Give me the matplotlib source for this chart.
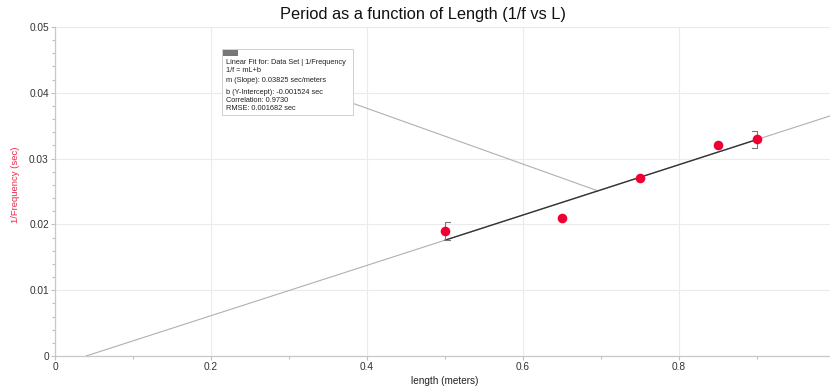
import matplotlib
matplotlib.use("Agg")
import matplotlib.pyplot as plt
import numpy as np
from matplotlib.patches import Rectangle
from matplotlib.ticker import MultipleLocator

plt.rcParams['font.family'] = ['Liberation Sans', 'DejaVu Sans']

# data
length = [0.5, 0.65, 0.75, 0.85, 0.9]
inv_freq = [0.019, 0.021, 0.027, 0.032, 0.033]
slope = 0.03825
intercept = -0.001524
fit_lines = ["Linear Fit for: Data Set | 1/Frequency",
             "1/f = mL+b",
             "m (Slope): 0.03825 sec/meters",
             "b (Y-Intercept): -0.001524 sec",
             "Correlation: 0.9730",
             "RMSE: 0.001682 sec"]
x_ticks = [0, 0.2, 0.4, 0.6, 0.8]
x_tick_labels = ["0", "0.2", "0.4", "0.6", "0.8"]
y_ticks = [0, 0.01, 0.02, 0.03, 0.04, 0.05]
y_tick_labels = ["0", "0.01", "0.02", "0.03", "0.04", "0.05"]

W, H = 830, 388
fig = plt.figure(figsize=(W/100, H/100), dpi=100)
ax = fig.add_axes([55/W, 1-356/H, 1-55/W, (356-27)/H])
xmax = (830-55)/780
ax.set_xlim(0, xmax)
ax.set_ylim(0, 0.05)

ax.grid(True, color='#ebebeb', lw=0.8, zorder=0)
for s in ['top', 'right']:
    ax.spines[s].set_visible(False)
for s in ['left', 'bottom']:
    ax.spines[s].set_color('#c8c8c8')
    ax.spines[s].set_linewidth(0.9)

ax.set_xticks(x_ticks)
ax.set_xticklabels(x_tick_labels)
ax.set_yticks(y_ticks)
ax.set_yticklabels(y_tick_labels)
ax.xaxis.set_minor_locator(MultipleLocator(0.1))
ax.yaxis.set_minor_locator(MultipleLocator(0.002))
ax.tick_params(which='both', colors='#c0c0c0', labelcolor='#333333', labelsize=7.3, length=3, width=0.8, pad=1.5)
ax.tick_params(which='minor', length=2.5)

# full fit line (gray)
x0 = -intercept/slope
xs = np.array([x0, xmax])
ax.plot(xs, slope*xs + intercept, color='#b0b0b0', lw=0.8, zorder=2)
# fit over data range (dark)
xr = np.array([min(length), max(length)])
ax.plot(xr, slope*xr + intercept, color='#333333', lw=1.0, zorder=3)
# brackets
yl = slope*xr[0] + intercept
ax.plot([xr[0]+0.006, xr[0], xr[0], xr[0]+0.006], [yl+0.0027, yl+0.0027, yl, yl], color='#777777', lw=0.8, zorder=3)
yr = slope*xr[1] + intercept
ax.plot([xr[1]-0.006, xr[1], xr[1], xr[1]-0.006], [yr+0.0013, yr+0.0013, yr-0.0013, yr-0.0013], color='#777777', lw=0.8, zorder=3)

ax.scatter(length, inv_freq, s=48, color='#ee0033', zorder=5, linewidths=0)

# annotation connector
xa = 0.696
ax.plot([0.382, xa], [0.0384, slope*xa + intercept], color='#b0b0b0', lw=0.8, zorder=2)

# annotation box
bx0, bx1 = (222-55)/780, (353-55)/780
def py(p):
    return (356-p)/6580
ax.add_patch(Rectangle((bx0, py(115)), bx1-bx0, py(49)-py(115), facecolor='white',
                       edgecolor='#d0d0d0', lw=0.7, zorder=6))
ax.add_patch(Rectangle((bx0+0.001, py(55.5)), (237-222)/780, py(49.5)-py(55.5), facecolor='#777777',
                       edgecolor='none', zorder=7))
ys_px = [62, 70, 81, 92, 101, 109]
for t, p in zip(fit_lines, ys_px):
    ax.text((226-55)/780, py(p), t, fontsize=5.3, color='#222222', va='center', ha='left', zorder=7)

fig.text(423/W, 1-14/H, "Period as a function of Length (1/f vs L)", fontsize=11.8,
         ha='center', va='center', color='#111111')
fig.text(16/W, 1-185/H, "1/Frequency (sec)", fontsize=6.8, rotation=90, ha='center', va='center', color='#e8284a')
fig.text(445/W, 1-381/H, "length (meters)", fontsize=7.2, ha='center', va='center', color='#222222')

fig.savefig("out.png", dpi=100)
